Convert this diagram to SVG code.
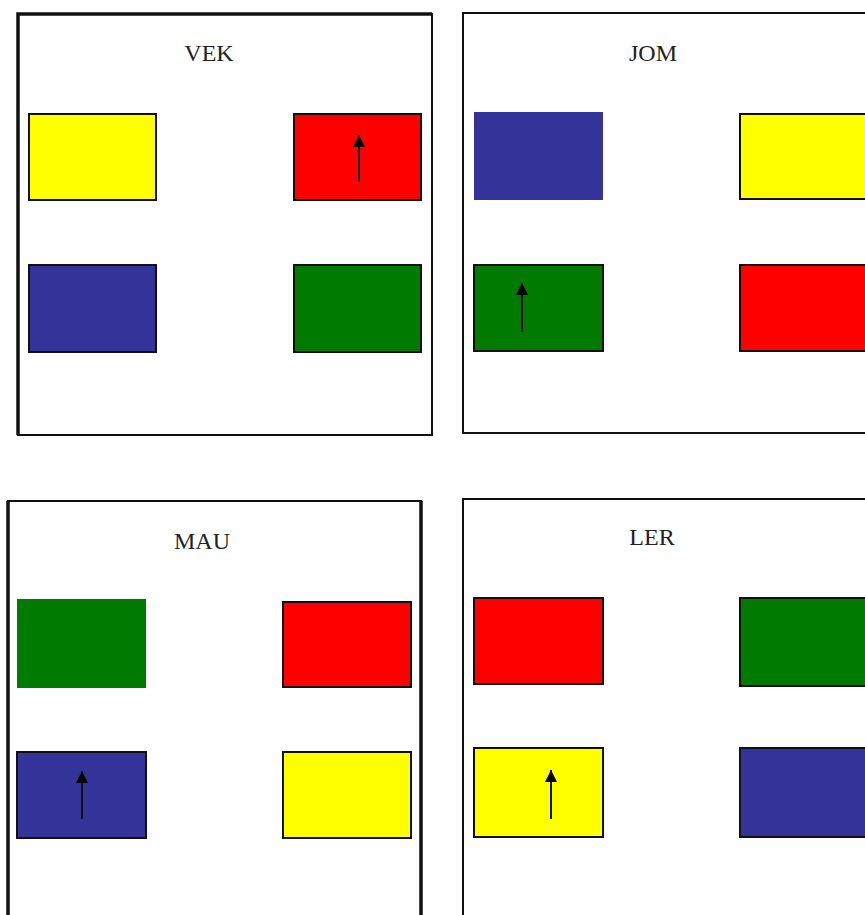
<svg xmlns="http://www.w3.org/2000/svg" width="865" height="915" viewBox="0 0 865 915">
<style>
.frame{fill:none;stroke:#111;stroke-width:2}
.thick{stroke:#111;stroke-width:3.5;fill:none}
.box{stroke:#111;stroke-width:2}
.nostroke{stroke:none}
.y{fill:#FFFF00}.r{fill:#FF0000}.b{fill:#333399}.g{fill:#007A00}
.t{font-family:"Liberation Serif","Times New Roman",serif;font-size:24px;fill:#222;text-anchor:middle}
.arr{stroke:#111;stroke-width:2;fill:none}
</style>
<defs>
<marker id="ah" markerWidth="12" markerHeight="12" refX="12" refY="6" orient="auto" markerUnits="userSpaceOnUse">
<path d="M0,0 L12,6 L0,12 Z" fill="#000"/>
</marker>
</defs>
<rect width="865" height="915" fill="#fff"/>

<g id="panel-vek">
<rect class="frame" x="18" y="14" width="414" height="421"/>
<path class="thick" d="M18,435 V14 H432"/>
<text class="t" x="209" y="61">VEK</text>
<rect class="box y" x="29" y="114" width="127" height="86"/>
<rect class="box r" x="294" y="114" width="127" height="86"/>
<rect class="box b" x="29" y="265" width="127" height="87"/>
<rect class="box g" x="294" y="265" width="127" height="87"/>
</g>

<g id="panel-jom">
<path class="frame" d="M865,13 H463 V433 H865"/>
<text class="t" x="653" y="61">JOM</text>
<rect class="nostroke b" x="474" y="112" width="129" height="88"/>
<rect class="box y" x="740" y="114" width="127" height="85"/>
<rect class="box g" x="474" y="265" width="129" height="86"/>
<rect class="box r" x="740" y="265" width="127" height="86"/>
</g>

<g id="panel-mau">
<path class="frame" d="M8,915 V501 H421 V915"/>
<path class="thick" d="M8,915 V501 M421,501 V915"/>
<text class="t" x="202" y="549">MAU</text>
<rect class="nostroke g" x="17" y="599" width="129" height="89"/>
<rect class="box r" x="283" y="602" width="128" height="85"/>
<rect class="box b" x="17" y="752" width="129" height="86"/>
<rect class="box y" x="283" y="752" width="128" height="86"/>
</g>

<g id="panel-ler">
<path class="frame" d="M865,499 H463 V915"/>
<text class="t" x="652" y="545">LER</text>
<rect class="box r" x="474" y="598" width="129" height="86"/>
<rect class="box g" x="740" y="598" width="127" height="88"/>
<rect class="box y" x="474" y="748" width="129" height="89"/>
<rect class="box b" x="740" y="748" width="127" height="89"/>
</g>

<g id="connectors">
<line class="arr" x1="359" y1="182" x2="359" y2="135" marker-end="url(#ah)"/>
<line class="arr" x1="522" y1="332" x2="522" y2="283" marker-end="url(#ah)"/>
<line class="arr" x1="82" y1="819" x2="82" y2="771" marker-end="url(#ah)"/>
<line class="arr" x1="551" y1="819" x2="551" y2="770" marker-end="url(#ah)"/>
</g>
</svg>
